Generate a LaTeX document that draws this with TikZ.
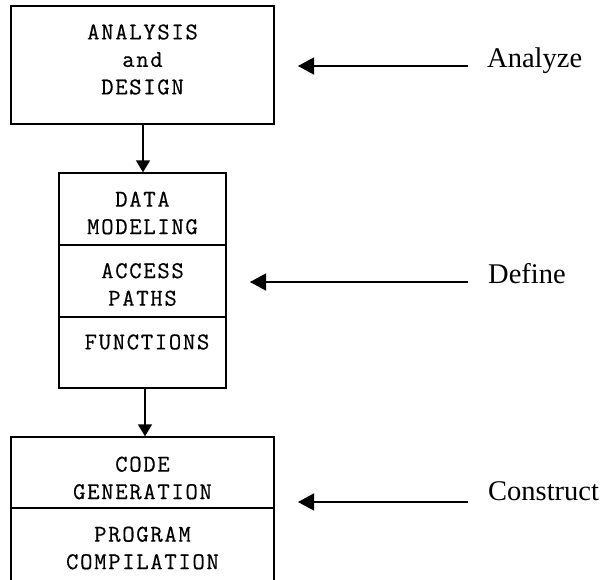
\documentclass[tikz,border=0pt]{standalone}
\usepackage{fontspec}
\setmainfont{Liberation Serif}
\newfontfamily\boxmono[LetterSpace=7,FakeBold=0.5]{Latin Modern Mono}
\usetikzlibrary{arrows.meta}
\tikzset{
  boxline/.style={draw=black, line width=1.4pt},
  divline/.style={draw=black, line width=2.8pt},
  boxtext/.style={font=\boxmono\fontsize{24}{27.5}\selectfont, align=center, inner sep=0pt},
  flowarrow/.style={draw=black, line width=1.4pt, -{Triangle[length=12pt,width=14pt]}},
  sidearrow/.style={draw=black, line width=1.4pt, -{Triangle[length=16pt,width=17pt]}},
  sidelabel/.style={font=\fontsize{28.5}{32}\selectfont, anchor=base west, inner sep=0pt},
}
\begin{document}
\begin{tikzpicture}[x=1pt,y=-1pt]
\useasboundingbox (0,0) rectangle (608,579);
\clip (0,0) rectangle (608,579);
\fill[white] (0,0) rectangle (608,579);

% box 1
\node[boxline, minimum width=263pt, minimum height=118pt, inner sep=0pt] (ad) at (142.5,65) {};
\node[boxtext] (adt) at (142.5,59.5) {ANALYSIS\\and\\DESIGN};

% box 2
\node[boxline, minimum width=167pt, minimum height=215pt, inner sep=0pt] (def) at (142.5,280.5) {};
\coordinate (d1l) at (59,245); \coordinate (d1r) at (226,245);
\coordinate (d2l) at (59,317); \coordinate (d2r) at (226,317);
\draw[divline] (d1l) -- (d1r);
\draw[divline] (d2l) -- (d2r);
\node[boxtext] (dm) at (142.5,213) {DATA\\MODELING};
\node[boxtext] (ap) at (142.5,284.5) {ACCESS\\PATHS};
\node[boxtext] (fn) at (147,342) {FUNCTIONS};

% box 3 (extends beyond bottom edge)
\node[boxline, minimum width=263pt, minimum height=170pt, inner sep=0pt] (con) at (142.5,522) {};
\coordinate (d3l) at (11,508); \coordinate (d3r) at (274,508);
\draw[divline] (d3l) -- (d3r);
\node[boxtext] (cg) at (142.5,478) {CODE\\GENERATION};
\node[boxtext] (pc) at (142.5,548) {PROGRAM\\COMPILATION};

% vertical connectors
\draw[flowarrow] (ad.south -| 143,0) -- (def.north -| 143,0);
\draw[flowarrow] (def.south -| 145,0) -- (con.north -| 145,0);

% side labels and arrows
\node[sidelabel] (la) at (487,67) {Analyze};
\node[sidelabel] (ld) at (488,283) {Define};
\node[sidelabel] (lc) at (488,500) {Construct};
\coordinate (a1s) at (468,66); \coordinate (a1e) at (298,66);
\coordinate (a2s) at (468,282); \coordinate (a2e) at (250,282);
\coordinate (a3s) at (468,502); \coordinate (a3e) at (298,502);
\draw[sidearrow] (a1s) -- (a1e);
\draw[sidearrow] (a2s) -- (a2e);
\draw[sidearrow] (a3s) -- (a3e);
\end{tikzpicture}
\end{document}
